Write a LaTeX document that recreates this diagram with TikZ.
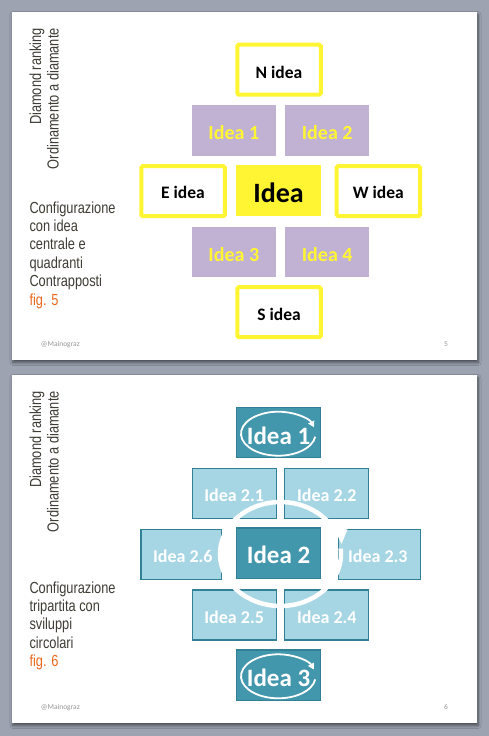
\documentclass[tikz,border=0pt]{standalone}
\usepackage{fontspec}
\setmainfont{Carlito}
\newfontfamily\narrowfont[FakeStretch=0.8]{Liberation Sans}
\usetikzlibrary{arrows.meta,shadows.blur}
\definecolor{bggrey}{RGB}{157,163,177}
\definecolor{ppyellow}{RGB}{255,245,51}
\definecolor{pplilac}{RGB}{193,178,212}
\definecolor{tealdark}{RGB}{67,151,173}
\definecolor{teallight}{RGB}{166,214,228}
\definecolor{tealline}{RGB}{49,128,150}
\definecolor{sidetext}{RGB}{62,60,52}
\definecolor{figorange}{RGB}{234,104,30}
\definecolor{footgrey}{RGB}{150,150,150}
\begin{document}
\begin{tikzpicture}[x=1pt,y=-1pt,
  slidebg/.style={fill=white, blur shadow={shadow xshift=1pt,shadow yshift=-2.5pt,shadow blur steps=6,shadow blur radius=3pt,shadow opacity=55}},
  ybox/.style={draw=ppyellow, line width=4pt, rounded corners=1.5pt, fill=white, minimum width=83.5pt, minimum height=50pt, inner sep=0pt},
  lbox/.style={fill=pplilac, minimum width=84.3pt, minimum height=50.7pt, inner sep=0pt},
  cbox/.style={fill=ppyellow, minimum width=85pt, minimum height=50.7pt, inner sep=0pt},
  dbox/.style={fill=tealdark, draw=tealline, line width=1.3pt, minimum width=84pt, minimum height=50.5pt, inner sep=0pt},
  tbox/.style={fill=teallight, draw=tealline, line width=1.3pt, minimum width=84pt, minimum height=50pt, inner sep=0pt},
  blk/.style={font=\bfseries\fontsize{17.5}{20}\selectfont, text=black, inner sep=0pt},
  ylw/.style={font=\bfseries\fontsize{20}{22}\selectfont, text=ppyellow, inner sep=0pt},
  bigtxt/.style={font=\bfseries\fontsize{28}{30}\selectfont, text=black, inner sep=0pt},
  wbig/.style={font=\bfseries\fontsize{25}{27}\selectfont, text=white, inner sep=0pt},
  wsmall/.style={font=\bfseries\fontsize{18}{20}\selectfont, text=white, inner sep=0pt},
  side/.style={font=\narrowfont\fontsize{16}{18}\selectfont, text=sidetext, inner sep=0pt},
  foot/.style={font=\fontsize{7.5}{9}\selectfont, text=footgrey, inner sep=0pt},
  ring/.style={draw=white, line width=4.5pt},
  smallring/.style={draw=white, line width=1.8pt, -{Triangle[length=6pt,width=6.5pt]}}
]
\useasboundingbox (0,0) rectangle (489,736);
\fill[bggrey] (0,0) rectangle (489,736);
\path[slidebg] (12,12) rectangle (477,360);
\path[slidebg] (12,375) rectangle (477,723);

% ---------------- slide 5 ----------------
\node[side, rotate=90, anchor=base east] (s1a) at (41,28) {Diamond ranking};
\node[side, rotate=90, anchor=base east] (s1b) at (58.5,28) {Ordinamento a diamante};
\node[side, anchor=base west] (c1) at (29.3,213) {Configurazione};
\node[side, anchor=base west] (c2) at (29.3,231.4) {con idea};
\node[side, anchor=base west] (c3) at (29.3,249.8) {centrale e};
\node[side, anchor=base west] (c4) at (29.3,268.2) {quadranti};
\node[side, anchor=base west] (c5) at (29.3,286.6) {Contrapposti};
\node[side, anchor=base west, text=figorange] (c6) at (29.3,305) {fig. 5};
\node[foot, anchor=base west] (f1) at (40.7,346.5) {@Mainograz};
\node[foot, anchor=base] (p1) at (446,346.5) {5};

\node[ybox] (N) at (279,69.7) {};
\node[lbox] (I1) at (233.8,130.3) {};
\node[lbox] (I2) at (327.2,130.3) {};
\node[ybox] (E) at (183,191.2) {};
\node[cbox] (C) at (278.5,190.3) {};
\node[ybox] (W) at (378.3,191.2) {};
\node[lbox] (I3) at (233.8,252) {};
\node[lbox] (I4) at (327.2,252) {};
\node[ybox] (S) at (279,312.2) {};

\node[blk] (tN) at ([shift={(0,2.5)}]N.center) {N idea};
\node[ylw] (tI1) at ([shift={(0,2.4)}]I1.center) {Idea 1};
\node[ylw] (tI2) at ([shift={(0,2.4)}]I2.center) {Idea 2};
\node[blk] (tE) at ([shift={(0,1.5)}]E.center) {E idea};
\node[bigtxt] (tC) at ([shift={(0,2.2)}]C.center) {Idea};
\node[blk] (tW) at ([shift={(0,1.5)}]W.center) {W idea};
\node[ylw] (tI3) at ([shift={(0,2.4)}]I3.center) {Idea 3};
\node[ylw] (tI4) at ([shift={(0,2.4)}]I4.center) {Idea 4};
\node[blk] (tS) at ([shift={(0,2.5)}]S.center) {S idea};

% ---------------- slide 6 ----------------
\node[side, rotate=90, anchor=base east] (s2a) at (41,391) {Diamond ranking};
\node[side, rotate=90, anchor=base east] (s2b) at (58.5,391) {Ordinamento a diamante};
\node[side, anchor=base west] (d1) at (29.3,593) {Configurazione};
\node[side, anchor=base west] (d2) at (29.3,611.4) {tripartita con};
\node[side, anchor=base west] (d3) at (29.3,629.8) {sviluppi};
\node[side, anchor=base west] (d4) at (29.3,648.2) {circolari};
\node[side, anchor=base west, text=figorange] (d5) at (29.3,666.6) {fig. 6};
\node[foot, anchor=base west] (f2) at (40.7,709.5) {@Mainograz};
\node[foot, anchor=base] (p2) at (446,709.5) {6};

\node[dbox] (J1) at (278.5,432.5) {};
\node[tbox] (J21) at (234.2,493.3) {};
\node[tbox] (J22) at (326.8,493.3) {};
\node[tbox, minimum width=80.5pt] (J26) at (181.2,554.3) {};
\node[dbox] (J2) at (278.5,553.3) {};
\node[tbox, minimum width=81.7pt] (J23) at (379.5,554.3) {};
\node[tbox] (J25) at (234.2,615) {};
\node[tbox] (J24) at (326.8,615) {};
\node[dbox] (J3) at (278.5,675.3) {};

\node[wbig] (tJ1) at ([shift={(0,3)}]J1.center) {Idea 1};
\node[wsmall] (tJ21) at ([shift={(0,2)}]J21.center) {Idea 2.1};
\node[wsmall] (tJ22) at ([shift={(0,2)}]J22.center) {Idea 2.2};
\node[wsmall] (tJ26) at ([shift={(1.6,2)}]J26.center) {Idea 2.6};
\node[wbig] (tJ2) at ([shift={(0,2)}]J2.center) {Idea 2};
\node[wsmall] (tJ23) at ([shift={(-1.7,2)}]J23.center) {Idea 2.3};
\node[wsmall] (tJ25) at ([shift={(0,2)}]J25.center) {Idea 2.5};
\node[wsmall] (tJ24) at ([shift={(0,2)}]J24.center) {Idea 2.4};
\node[wbig] (tJ3) at ([shift={(0,3)}]J3.center) {Idea 3};

% circular arrows
\coordinate (rc) at (280.5,554);
\draw[ring] ([shift={(-6:60.5 and 52)}]rc) arc[start angle=-6, end angle=335, x radius=60.5, y radius=52];
\fill[white] (333.5,527) -- (347.5,529.5) -- (341.5,544) -- cycle;

\coordinate (e1) at (278.3,433.7);
\draw[smallring] ([shift={(8:37.3 and 22)}]e1) arc[start angle=8, end angle=343, x radius=37.3, y radius=22];
\coordinate (e3) at (278.3,676.3);
\draw[smallring] ([shift={(8:37.3 and 22)}]e3) arc[start angle=8, end angle=342, x radius=37.3, y radius=22];
\end{tikzpicture}
\end{document}
